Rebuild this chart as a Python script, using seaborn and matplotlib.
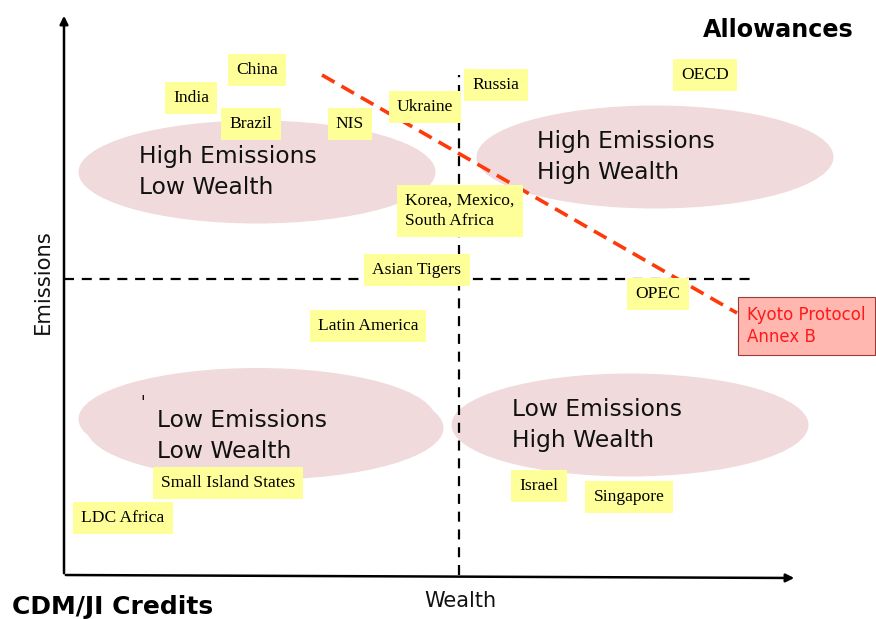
import matplotlib
matplotlib.use("Agg")
import matplotlib.pyplot as plt
from matplotlib.patches import Ellipse
import pandas as pd
import seaborn as sns

# coordinates: wealth to the right, emissions upward (arbitrary units)
groups = ["China", "India", "Brazil", "NIS", "Ukraine", "Russia", "OECD",
          "Korea, Mexico,\nSouth Africa", "Asian Tigers", "OPEC", "Latin America",
          "Small Island States", "LDC Africa", "Israel", "Singapore"]
group_wealth = [193, 127, 187, 286, 361, 432, 641, 396, 353, 594, 304, 164, 59, 475, 565]
group_emissions = [505, 477, 451, 451, 468, 490, 500, 364, 305, 281, 249, 92, 57, 89, 78]

zones = ["High Emissions\nLow Wealth", "High Emissions\nHigh Wealth",
         "Low Emissions\nLow Wealth", "Low Emissions\nHigh Wealth"]
zone_wealth = [193, 591, 201, 566]
zone_emissions = [403, 418, 147, 150]
zone_label_wealth = [75, 473, 93, 448]
zone_label_emissions = [403, 418, 139, 150]

kyoto_wealth = [258, 673]
kyoto_emissions = [500, 262]

sns.set_theme(style="white")
plt.rcParams["font.family"] = ["DejaVu Sans"]

fig = plt.figure(figsize=(8.76, 6.19), dpi=100)
ax = fig.add_axes([0, 0, 1, 1])
ax.set_xlim(-64, 812)
ax.set_ylim(-44, 575)
ax.axis("off")

# ellipses behind everything
for name, w, e in zip(zones, zone_wealth, zone_emissions):
    ax.add_patch(Ellipse((w, e), 357, 103, facecolor="#f0dadb", edgecolor="none", zorder=1))
    if name.startswith("Low Emissions\nLow"):
        ax.add_patch(Ellipse((w - 8, e + 9), 357, 102, facecolor="#f0dadb",
                             edgecolor="none", zorder=1))

for name, lx, e in zip(zones, zone_label_wealth, zone_label_emissions):
    ax.text(lx, e, name, fontsize=16.8, ha="left", va="center", linespacing=1.45,
            color="#111111", zorder=3)
ax.text(79, 172, "'", fontsize=12, ha="center", va="center", color="#111111", zorder=3)

# quadrant lines
quad_v = pd.DataFrame({"wealth": [395, 395], "emissions": [0, 500]})
quad_h = pd.DataFrame({"wealth": [0, 686], "emissions": [296, 296]})
for df in (quad_v, quad_h):
    sns.lineplot(data=df, x="wealth", y="emissions", ax=ax, color="black",
                 linewidth=1.6, estimator=None, sort=False, zorder=2,
                 linestyle=(0, (4.5, 3.5)))

# kyoto line
kyoto = pd.DataFrame({"wealth": kyoto_wealth, "emissions": kyoto_emissions})
sns.lineplot(data=kyoto, x="wealth", y="emissions", ax=ax, color="#ff3a0a",
             linewidth=2.6, estimator=None, sort=False, zorder=5,
             linestyle=(0, (4, 2.2)))

# axes arrows
ax.annotate("", xy=(0, 562), xytext=(0, -1),
            arrowprops=dict(arrowstyle="-|>", lw=1.8, color="black",
                            mutation_scale=12), zorder=4)
ax.annotate("", xy=(733, -3), xytext=(-1, 0),
            arrowprops=dict(arrowstyle="-|>", lw=1.8, color="black",
                            mutation_scale=12), zorder=4)

# country group boxes
for name, w, e in zip(groups, group_wealth, group_emissions):
    ax.text(w, e, name, fontsize=12.6, family="Liberation Serif", ha="center",
            va="center", color="black", multialignment="left", zorder=6,
            linespacing=1.35,
            bbox=dict(boxstyle="square,pad=0.47", facecolor="#ffff99",
                      edgecolor="none"))

ax.text(683, 249, "Kyoto Protocol\nAnnex B", fontsize=12, color="#ff1a1a",
        ha="left", va="center", linespacing=1.3, zorder=7,
        bbox=dict(boxstyle="square,pad=0.55", facecolor="#ffb7b0",
                  edgecolor="#9a3a3a", linewidth=0.8))

ax.text(-21, 293, "Emissions", fontsize=15.2, rotation=90, ha="center",
        va="center", color="#111111")
ax.text(396, -26, "Wealth", fontsize=15, ha="center", va="center", color="#111111")
ax.text(790, 545, "Allowances", fontsize=17.2, fontweight="bold", ha="right",
        va="center", color="black")
ax.text(-52, -32, "CDM/JI Credits", fontsize=18, fontweight="bold", ha="left",
        va="center", color="black")

fig.savefig("out.png", dpi=100)
